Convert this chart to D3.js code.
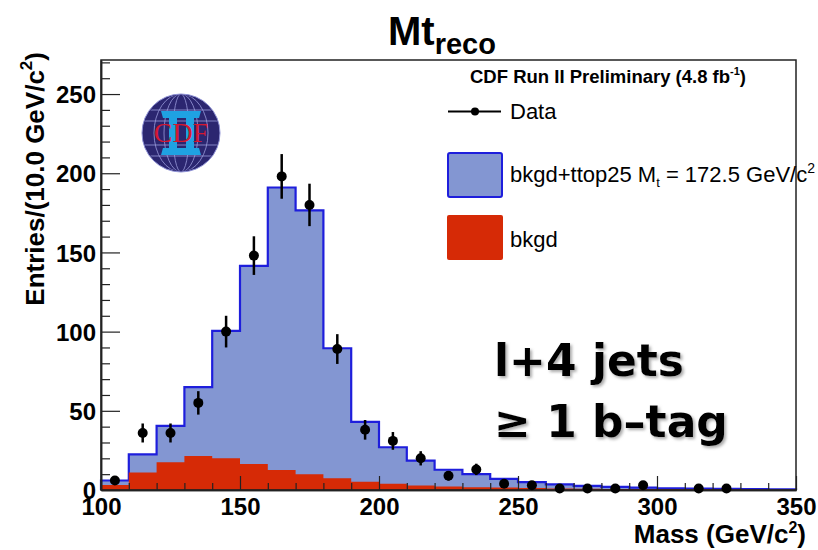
<!DOCTYPE html>
<html>
<head>
<meta charset="utf-8">
<script src="https://cdn.jsdelivr.net/npm/d3@7"></script>
<style>
  body { margin: 0; background: #fff; }
  svg { display: block; }
  .lbl { font-family: "Liberation Sans", Arial, sans-serif; font-weight: bold; fill: #000; }
  .leg { font-family: "Liberation Sans", Arial, sans-serif; fill: #000; }
</style>
</head>
<body>
<svg id="canvas" width="818" height="550"></svg>
<script>
var width = 818;
var height = 550;

// bin low edges (GeV/c^2), 10 GeV wide
var binLow = [100, 110, 120, 130, 140, 150, 160, 170, 180, 190, 200, 210, 220,
              230, 240, 250, 260, 270, 280, 290, 300, 310, 320, 330, 340];
// bkgd + ttop25 (stacked total)
var totalMC = [6, 22.5, 40.5, 65, 100.5, 141.5, 191, 176.5, 89.5, 43, 27, 18.5, 12.8,
               10, 7, 5, 3.6, 2.6, 2, 1.5, 1.1, 0.9, 0.7, 0.5, 0.4];
// background only
var bkgd = [3.2, 11, 17.5, 21.4, 20, 16.4, 12.6, 10, 7.4, 5.2, 4, 2.8, 2.2,
            1.8, 1.5, 1.2, 1, 0.8, 0.7, 0.6, 0.5, 0.4, 0.3, 0.3, 0.2];
// data entries and error bars (null = empty bin)
var dataCounts = [6, 36, 36, 55, 100, 148, 198, 180, 89, 38, 31, 20, 9,
                  13, 4, 3, 1, 1, 1, 3, null, 1, 1, null, null];
var dataErr = [2.4, 6, 6, 7.4, 10, 12.2, 14.1, 13.4, 9.4, 6.2, 5.6, 4.5, 3,
               3.6, 2, 1.7, 1, 1, 1, 1.7, null, 1, 1, null, null];

var xTicks = [100, 150, 200, 250, 300, 350];
var yTicks = [0, 50, 100, 150, 200, 250];

var blueFill = "#8396d2";
var blueLine = "#1e1edc";
var redFill = "#d62a06";

var xScale = d3.scaleLinear()
.domain([100, 350])
.range([101, 796]);

var yScale = d3.scaleLinear()
.domain([0, 271.5])
.range([490, 60]);

var svg = d3.select("#canvas");

var defs = svg.append("defs");
var shadow = defs.append("filter").attr("id", "shadow")
.attr("x", "-10%").attr("y", "-10%").attr("width", "130%").attr("height", "140%");
shadow.append("feDropShadow")
.attr("dx", 2).attr("dy", 2)
.attr("stdDeviation", 1.6)
.attr("flood-color", "#888")
.attr("flood-opacity", 0.7);

defs.append("clipPath").attr("id", "logoClip")
.append("circle").attr("cx", 181).attr("cy", 133).attr("r", 38);

// histograms
var total = binLow.map(function(b, i) { return {x: b, y: totalMC[i]}; });
total.push({x: 350, y: totalMC[totalMC.length - 1]});
var back = binLow.map(function(b, i) { return {x: b, y: bkgd[i]}; });
back.push({x: 350, y: bkgd[bkgd.length - 1]});

var area = d3.area()
.curve(d3.curveStepAfter)
.x(function(d) { return xScale(d.x); })
.y0(yScale(0))
.y1(function(d) { return yScale(d.y); });

var line = d3.line()
.curve(d3.curveStepAfter)
.x(function(d) { return xScale(d.x); })
.y(function(d) { return yScale(d.y); });

svg.append("path")
.datum(total)
.attr("fill", blueFill)
.attr("d", area);

svg.append("path")
.datum([{x: 100, y: 0}].concat(total, [{x: 350, y: 0}]))
.attr("fill", "none")
.attr("stroke", blueLine)
.attr("stroke-width", 2.2)
.attr("d", line);

svg.append("path")
.datum(back)
.attr("fill", redFill)
.attr("d", area);

// frame
svg.append("rect")
.attr("x", xScale(100)).attr("y", yScale(271.5))
.attr("width", xScale(350) - xScale(100))
.attr("height", yScale(0) - yScale(271.5))
.attr("fill", "none")
.attr("stroke", "#222")
.attr("stroke-width", 1.5);

// axes
var minorX = d3.range(100, 351, 10).filter(function(v) { return v % 50 !== 0; });
var minorY = d3.range(0, 271, 10).filter(function(v) { return v % 50 !== 0; });

var xAxis = svg.append("g")
.attr("transform", "translate(0," + yScale(0) + ")")
.call(d3.axisBottom(xScale).tickValues(xTicks).tickSizeInner(-14).tickSizeOuter(0).tickPadding(0));
svg.append("g")
.attr("transform", "translate(0," + yScale(0) + ")")
.call(d3.axisBottom(xScale).tickValues(minorX).tickFormat("").tickSizeInner(-7).tickSizeOuter(0));

var yAxis = svg.append("g")
.attr("transform", "translate(" + xScale(100) + ",0)")
.call(d3.axisLeft(yScale).tickValues(yTicks).tickSizeInner(-19).tickSizeOuter(0).tickPadding(5));
svg.append("g")
.attr("transform", "translate(" + xScale(100) + ",0)")
.call(d3.axisLeft(yScale).tickValues(minorY).tickFormat("").tickSizeInner(-9).tickSizeOuter(0));

svg.selectAll(".domain").attr("stroke", "#222").attr("stroke-width", 1.5);
svg.selectAll(".tick line").attr("stroke", "#222").attr("stroke-width", 1.2);

xAxis.selectAll("text")
.attr("class", "lbl")
.attr("y", 25).attr("dy", 0)
.style("font-size", "24px");

yAxis.selectAll("text")
.attr("class", "lbl")
.attr("dy", "0.36em")
.style("font-size", "24px");

// data points with errors
var pts = binLow.map(function(b, i) {
  return {x: b + 5, y: dataCounts[i], e: dataErr[i]};
}).filter(function(d) { return d.y !== null; });

svg.selectAll(".err")
.data(pts)
.enter().append("line")
.attr("class", "err")
.attr("x1", function(d) { return xScale(d.x); })
.attr("x2", function(d) { return xScale(d.x); })
.attr("y1", function(d) { return yScale(d.y - d.e); })
.attr("y2", function(d) { return yScale(d.y + d.e); })
.attr("stroke", "#000")
.attr("stroke-width", 2.5);

svg.selectAll(".dot")
.data(pts)
.enter().append("circle")
.attr("class", "dot")
.attr("cx", function(d) { return xScale(d.x); })
.attr("cy", function(d) { return yScale(d.y); })
.attr("r", 5)
.attr("fill", "#000");

// title
var title = svg.append("text")
.attr("class", "lbl")
.attr("x", 388).attr("y", 45)
.style("font-size", "40px");
title.append("tspan").text("Mt");
title.append("tspan").attr("dy", 9).style("font-size", "29px").text("reco");

// axis titles
var xt = svg.append("text")
.attr("class", "lbl")
.attr("x", 806).attr("y", 543)
.attr("text-anchor", "end")
.style("font-size", "26px");
xt.append("tspan").text("Mass (GeV/c");
xt.append("tspan").attr("dy", -10).style("font-size", "16px").text("2");
xt.append("tspan").attr("dy", 10).text(")");

var yt = svg.append("text")
.attr("class", "lbl")
.attr("transform", "translate(44,52) rotate(-90)")
.attr("text-anchor", "end")
.style("font-size", "26px");
yt.append("tspan").text("Entries/(10.0 GeV/c");
yt.append("tspan").attr("dy", -12).style("font-size", "17px").text("2");
yt.append("tspan").attr("dy", 12).text(")");

// legend
var hd = svg.append("text")
.attr("class", "lbl")
.attr("x", 470).attr("y", 83)
.style("font-size", "18.5px");
hd.append("tspan").text("CDF Run II Preliminary (4.8 fb");
hd.append("tspan").attr("dy", -8).style("font-size", "11px").text("-1");
hd.append("tspan").attr("dy", 8).text(")");

svg.append("line")
.attr("x1", 448).attr("x2", 501)
.attr("y1", 111.5).attr("y2", 111.5)
.attr("stroke", "#000").attr("stroke-width", 2);
svg.append("circle")
.attr("cx", 475).attr("cy", 111.5).attr("r", 4).attr("fill", "#000");
svg.append("text").attr("class", "leg")
.attr("x", 510).attr("y", 119)
.style("font-size", "22px").text("Data");

svg.append("rect")
.attr("x", 448).attr("y", 153).attr("width", 54).attr("height", 44)
.attr("rx", 2)
.attr("fill", blueFill).attr("stroke", blueLine).attr("stroke-width", 2);
var lt = svg.append("text").attr("class", "leg")
.attr("x", 510).attr("y", 182)
.style("font-size", "22px");
lt.append("tspan").text("bkgd+ttop25 M");
lt.append("tspan").attr("dy", 5).style("font-size", "13px").text("t");
lt.append("tspan").attr("dy", -5).text(" = 172.5 GeV/c");
lt.append("tspan").attr("dy", -9).style("font-size", "14px").text("2");

svg.append("rect")
.attr("x", 447).attr("y", 215).attr("width", 56).attr("height", 45)
.attr("rx", 2)
.attr("fill", redFill);
svg.append("text").attr("class", "leg")
.attr("x", 510).attr("y", 247)
.style("font-size", "22px").text("bkgd");

// selection text
var sel = svg.append("text")
.attr("filter", "url(#shadow)")
.style("font-family", "'DejaVu Sans', sans-serif")
.style("font-weight", "bold")
.style("font-size", "44px")
.attr("fill", "#000");
sel.append("tspan").attr("x", 494).attr("y", 376).text("l+4 jets");
sel.append("tspan").attr("x", 494).attr("y", 437).text("\u2265 1 b\u2013tag");

// CDF logo
var logo = svg.append("g");
logo.append("circle")
.attr("cx", 181).attr("cy", 133).attr("r", 39)
.attr("fill", "#2b2670")
.attr("stroke", "#8f92d6").attr("stroke-width", 1);
var grid = logo.append("g").attr("clip-path", "url(#logoClip)")
.attr("stroke", "#9a9cdc").attr("stroke-width", 0.8).attr("fill", "none");
[110, 121, 145, 156].forEach(function(y) {
  grid.append("line").attr("x1", 140).attr("x2", 222).attr("y1", y).attr("y2", y);
});
[8, 17, 27].forEach(function(rx) {
  grid.append("ellipse").attr("cx", 181).attr("cy", 133).attr("rx", rx).attr("ry", 39);
});
var two = logo.append("g").attr("fill", "#1fa2e2");
two.append("path").attr("d", "M161,111 L201,111 L199,118 L163,118 Z");
two.append("path").attr("d", "M161,155 L201,155 L199,148 L163,148 Z");
two.append("rect").attr("x", 169).attr("y", 117).attr("width", 8).attr("height", 32);
two.append("rect").attr("x", 186).attr("y", 117).attr("width", 8).attr("height", 32);
logo.append("text")
.attr("x", 181).attr("y", 142)
.attr("text-anchor", "middle")
.style("font-family", "'Liberation Serif', 'Times New Roman', serif")
.style("font-size", "28px")
.attr("fill", "#d41832")
.text("CDF");
</script>
</body>
</html>
